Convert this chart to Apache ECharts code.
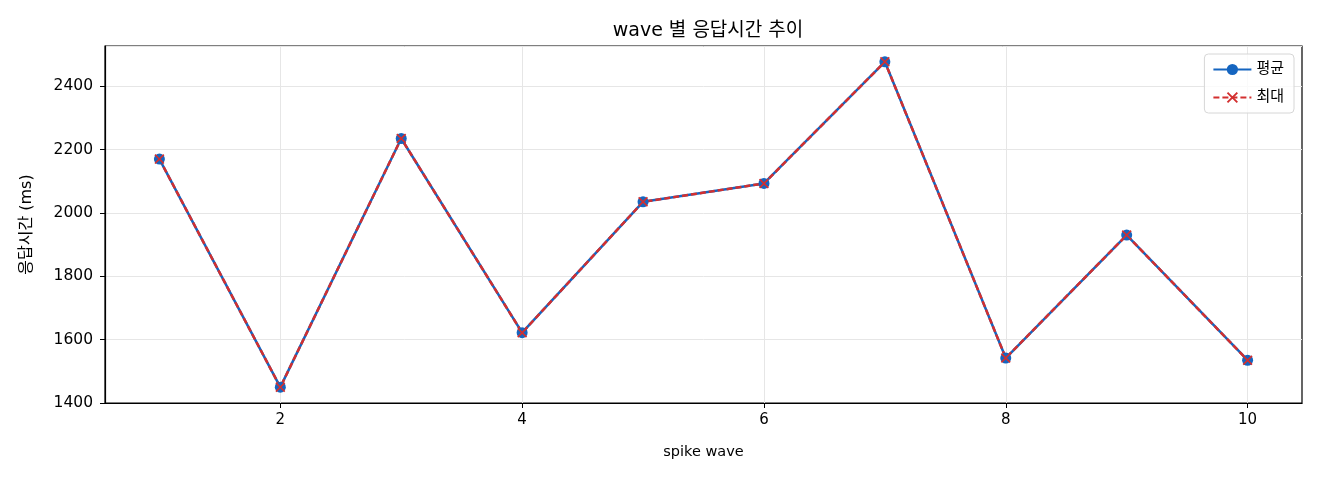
<!DOCTYPE html>
<html>
<head>
<meta charset="utf-8">
<script src="https://cdn.jsdelivr.net/npm/echarts@6/dist/echarts.min.js"></script>
<style>
html,body{margin:0;padding:0;background:#fff;}
#chart{width:1320px;height:480px;}
</style>
</head>
<body>
<div id="chart"></div>
<script>
// 데이터
var waves=[1,2,3,4,5,6,7,8,9,10];
var avgMs=[2170,1450,2235,1622,2035,2093,2477,1542,1930,1535];
var maxMs=[2170,1450,2235,1622,2035,2093,2477,1542,1930,1535];
var xTicks=[2,4,6,8,10];

var FONT='"DejaVu Sans", "Noto Sans CJK KR", sans-serif';
var X_SYMBOL='path://M0,1.2L1.2,0L5,3.8L8.8,0L10,1.2L6.2,5L10,8.8L8.8,10L5,6.2L1.2,10L0,8.8L3.8,5Z';

function pairs(ys){
	var out=[];
	for(var i=0;i<waves.length;i++){
		out.push([waves[i],ys[i]]);
	}
	return out;
}

var myChart=echarts.init(document.getElementById('chart'));
myChart.setOption({
	animation:false,
	textStyle:{fontFamily:FONT},
	title:{
		text:'wave 별 응답시간 추이',
		left:703,
		textAlign:'center',
		top:17,
		textStyle:{fontFamily:FONT,fontSize:19,fontWeight:'normal',color:'#000'}
	},
	legend:{
		right:26,
		top:54,
		orient:'vertical',
		itemWidth:38,
		itemHeight:14,
		itemGap:13,
		padding:[8,10,8,8],
		borderColor:'#d6d6d6',
		borderWidth:1,
		borderRadius:4,
		backgroundColor:'rgba(255,255,255,0.8)',
		textStyle:{fontFamily:FONT,fontSize:15,color:'#000'},
		data:['평균','최대']
	},
	grid:{
		left:105,
		right:18,
		top:46,
		bottom:77,
		show:true,
		borderColor:'#000',
		borderWidth:1.2
	},
	xAxis:{
		type:'value',
		min:0.55,
		max:10.45,
		name:'spike wave',
		nameLocation:'middle',
		nameGap:42,
		nameTextStyle:{fontFamily:FONT,fontSize:14.5,color:'#000'},
		axisLine:{show:true,lineStyle:{color:'#000',width:1.2}},
		axisTick:{show:true,length:5,customValues:xTicks,lineStyle:{color:'#000'}},
		axisLabel:{customValues:xTicks,fontFamily:FONT,fontSize:15,color:'#000',margin:10},
		splitLine:{show:true,lineStyle:{color:'#e6e6e6',width:1}}
	},
	yAxis:{
		type:'value',
		min:1400,
		max:2527,
		interval:200,
		name:'응답시간 (ms)',
		nameLocation:'middle',
		nameGap:70,
		nameTextStyle:{fontFamily:FONT,fontSize:16,color:'#000'},
		axisLine:{show:true,lineStyle:{color:'#000',width:1.2}},
		axisTick:{show:true,length:5,lineStyle:{color:'#000'}},
		axisLabel:{
			fontFamily:FONT,fontSize:15.5,color:'#000',margin:12,showMaxLabel:false,
			formatter:function(v){return String(v);}
		},
		splitLine:{show:true,lineStyle:{color:'#e6e6e6',width:1}}
	},
	series:[
		{
			name:'평균',
			type:'line',
			data:pairs(avgMs),
			symbol:'circle',
			symbolSize:11,
			itemStyle:{color:'#1565c0'},
			lineStyle:{color:'#1565c0',width:2.5}
		},
		{
			name:'최대',
			type:'line',
			data:pairs(maxMs),
			symbol:X_SYMBOL,
			symbolSize:10,
			itemStyle:{color:'#d32f2f'},
			lineStyle:{color:'#d32f2f',width:2.5,type:[6,3]}
		}
	]
});
</script>
</body>
</html>
